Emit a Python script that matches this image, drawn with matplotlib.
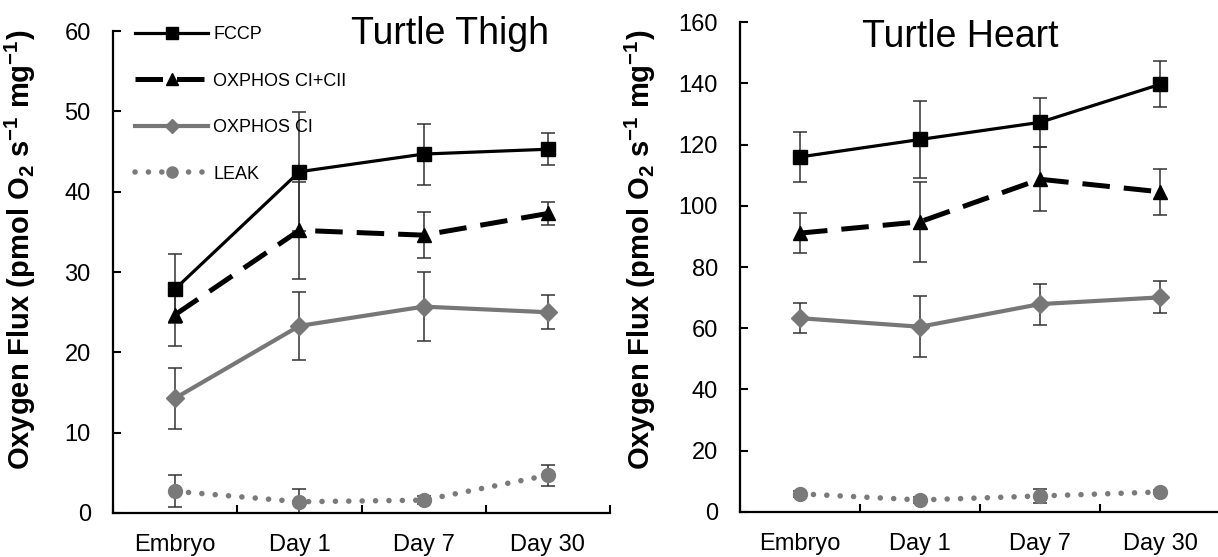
import matplotlib
matplotlib.use('Agg')
import matplotlib.pyplot as plt
import numpy as np

plt.rcParams['font.family'] = ['Liberation Sans', 'DejaVu Sans']
plt.rcParams['mathtext.fontset'] = 'custom'
plt.rcParams['mathtext.rm'] = 'Liberation Sans'
plt.rcParams['mathtext.bf'] = 'Liberation Sans:bold'

categories = ['Embryo', 'Day 1', 'Day 7', 'Day 30']
series = ['FCCP', 'OXPHOS CI+CII', 'OXPHOS CI', 'LEAK']

# Turtle Thigh
thigh_fccp = [27.9, 42.5, 44.7, 45.3]
thigh_fccp_err = [4.3, 7.4, 3.8, 2.0]
thigh_cicii = [24.7, 35.2, 34.6, 37.3]
thigh_cicii_err = [3.9, 6.0, 2.9, 1.4]
thigh_ci = [14.3, 23.3, 25.7, 25.0]
thigh_ci_err = [3.8, 4.2, 4.3, 2.1]
thigh_leak = [2.7, 1.4, 1.6, 4.7]
thigh_leak_err = [2.0, 1.6, 0.5, 1.3]

# Turtle Heart
heart_fccp = [116.0, 121.7, 127.3, 139.7]
heart_fccp_err = [8.3, 12.5, 8.0, 7.5]
heart_cicii = [91.1, 94.8, 108.7, 104.6]
heart_cicii_err = [6.5, 13.0, 10.5, 7.5]
heart_ci = [63.3, 60.5, 67.9, 70.1]
heart_ci_err = [4.8, 9.9, 6.7, 5.2]
heart_leak = [5.9, 3.9, 5.2, 6.5]
heart_leak_err = [1.0, 1.0, 2.3, 0.8]

styles = [
    dict(color='black', lw=2.3, ls='-', marker='s', ms=10.5),
    dict(color='black', lw=3.6, ls=(0, (5.5, 2.8)), marker='^', ms=10),
    dict(color='#777777', lw=3.0, ls='-', marker='D', ms=9),
    dict(color='#7a7a7a', lw=4.0, ls=(0, (0.01, 2.4)), marker='o', ms=10),
]


def draw(ax, vals, errs, ymax, ystep, title, title_xy, legend):
    x = np.arange(len(categories))
    for i, (v, e) in enumerate(zip(vals, errs)):
        st = styles[i]
        ax.errorbar(x, v, yerr=e, fmt='none', ecolor='#333333', elinewidth=1.1,
                    capsize=5, capthick=1.1, zorder=2)
        ax.plot(x, v, color=st['color'], lw=st['lw'], ls=st['ls'],
                marker=st['marker'], ms=st['ms'], mfc=st['color'], mec=st['color'],
                dash_capstyle='round' if i == 3 else 'butt',
                label=series[i], zorder=3)
    ax.set_xlim(-0.5, 3.5)
    ax.set_ylim(0, ymax)
    ax.set_yticks(np.arange(0, ymax + 1, ystep))
    ax.set_xticks(x)
    ax.set_xticklabels(categories, fontsize=17)
    ax.set_xticks(np.arange(-0.5, 3.6, 1.0), minor=True)
    ax.tick_params(axis='x', which='major', length=0, pad=15)
    ax.tick_params(axis='x', which='minor', direction='in', length=6, width=1.5)
    ax.tick_params(axis='y', direction='in', length=6, width=1.5, labelsize=17, pad=16)
    for s in ['top', 'right']:
        ax.spines[s].set_visible(False)
    for s in ['left', 'bottom']:
        ax.spines[s].set_linewidth(1.6)
    ax.set_ylabel('Oxygen Flux (pmol O$_\\mathbf{2}$ s$^\\mathbf{-1}$ mg$^\\mathbf{-1}$)',
                  fontsize=21, fontweight='bold')
    ax.text(title_xy[0], title_xy[1], title, transform=ax.transAxes,
            fontsize=27, ha='center', va='center')
    if legend:
        ax.legend(loc='upper left', bbox_to_anchor=(0.045, 1.01), frameon=False,
                  fontsize=13, handlelength=4.0, handletextpad=0.3,
                  labelspacing=1.63, borderpad=0, borderaxespad=0,
                  numpoints=1, markerscale=0.8)


fig = plt.figure(figsize=(12.18, 5.57), dpi=100)
ax1 = fig.add_axes([0.0928, 0.079, 0.408, 0.865])
ax2 = fig.add_axes([0.6076, 0.081, 0.394, 0.879])

draw(ax1, [thigh_fccp, thigh_cicii, thigh_ci, thigh_leak],
     [thigh_fccp_err, thigh_cicii_err, thigh_ci_err, thigh_leak_err],
     60, 10, 'Turtle Thigh', (0.678, 0.995), True)
draw(ax2, [heart_fccp, heart_cicii, heart_ci, heart_leak],
     [heart_fccp_err, heart_cicii_err, heart_ci_err, heart_leak_err],
     160, 20, 'Turtle Heart', (0.458, 0.97), False)

ax1.yaxis.set_label_coords(-0.151, 0.546)
ax2.yaxis.set_label_coords(-0.171, 0.535)

fig.savefig('out.png', dpi=100)
